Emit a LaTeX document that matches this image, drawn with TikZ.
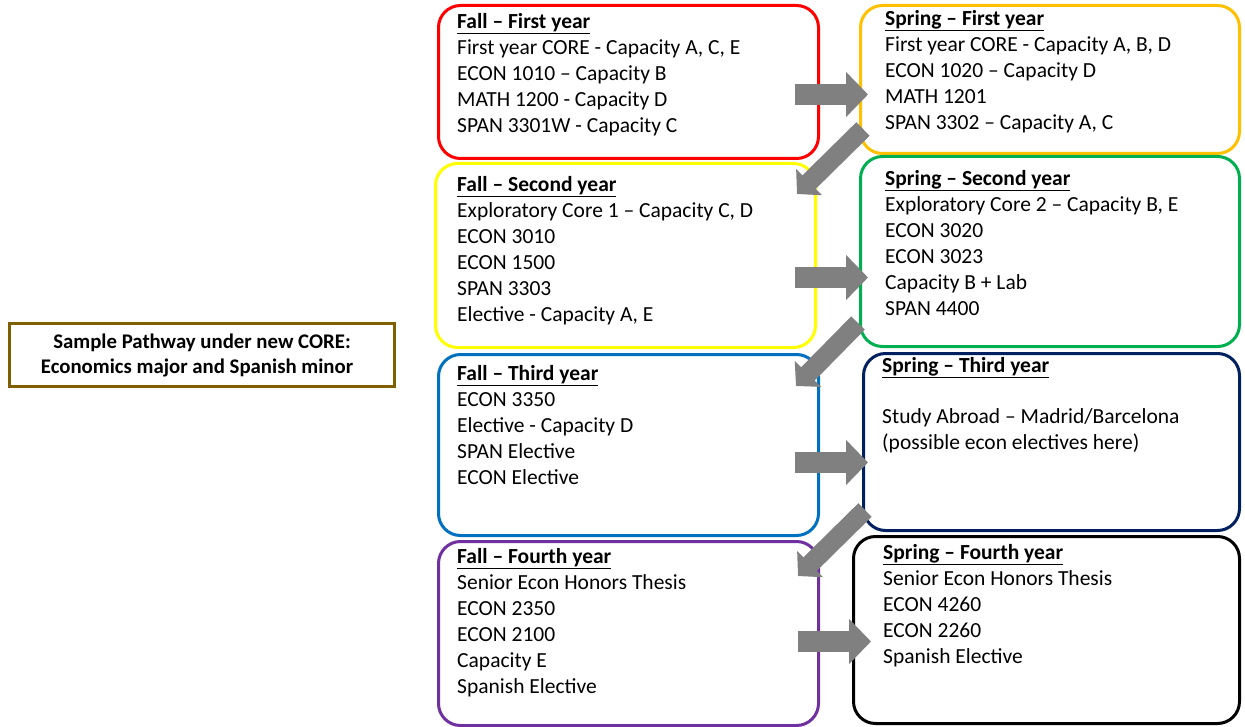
\documentclass[tikz,border=0pt]{standalone}
\usepackage{fontspec}
\setmainfont{Carlito}
\usetikzlibrary{arrows.meta,positioning}
\definecolor{fallred}{HTML}{FF0000}
\definecolor{fallyellow}{HTML}{FFFF00}
\definecolor{fallblue}{HTML}{0070C0}
\definecolor{fallpurple}{HTML}{7030A0}
\definecolor{springorange}{HTML}{FFC000}
\definecolor{springgreen}{HTML}{00B050}
\definecolor{springnavy}{HTML}{002060}
\definecolor{titlebrown}{HTML}{7F6000}
\definecolor{arrowgray}{HTML}{808080}

\begin{document}
\begin{tikzpicture}[x=1pt, y=-1pt]
  \tikzset{term/.style={draw, line width=3pt, rounded corners=22pt, anchor=north west, inner sep=0pt},
           lines/.style={anchor=north west, inner sep=0pt, align=left, font=\fontsize{21.5}{26}\selectfont},
           flow/.style={draw=arrowgray, line width=21pt, -{Triangle[length=22pt, width=44pt]}},
           slant/.style={flow, line width=19pt, -{Triangle[length=17pt, width=36pt]}}}
  \useasboundingbox (0,0) rectangle (1245,727);

  % title
  \node[draw=titlebrown, line width=3pt, anchor=north west, minimum width=385pt, minimum height=63pt,
        align=center, font=\bfseries\fontsize{20.8}{25}\selectfont] (title) at (8,322)
    {Sample Pathway under new CORE:\\Economics major and Spanish minor\hspace*{10pt}};

  % fall semesters
  \node[term, draw=fallred,    minimum width=380pt, minimum height=153pt] (f1) at (437,4) {};
  \node[term, draw=fallyellow, minimum width=380pt, minimum height=184pt] (f2) at (434,162) {};
  \node[term, draw=fallblue,   minimum width=380pt, minimum height=181pt] (f3) at (437,353) {};
  \node[term, draw=fallpurple, minimum width=380pt, minimum height=184pt] (f4) at (437,540) {};
  % spring semesters
  \node[term, draw=springorange, minimum width=379pt, minimum height=148pt] (s1) at (859,4) {};
  \node[term, draw=springgreen,  minimum width=379pt, minimum height=190pt] (s2) at (859,155) {};
  \node[term, draw=springnavy,   minimum width=376pt, minimum height=177pt] (s3) at (862,352) {};
  \node[term, draw=black,        minimum width=386pt, minimum height=187pt] (s4) at (852,535) {};

  \node[lines, below right=9pt and 20pt of f1.north west] (f1t)
    {\underline{\textbf{Fall – First year}}\\First year CORE - Capacity A, C, E\\ECON 1010 – Capacity B\\
     MATH 1200 - Capacity D\\SPAN 3301W - Capacity C};
  \node[lines, below right=14pt and 23pt of f2.north west] (f2t)
    {\underline{\textbf{Fall – Second year}}\\Exploratory Core 1 – Capacity C, D\\ECON 3010\\ECON 1500\\
     SPAN 3303\\Elective - Capacity A, E};
  \node[lines, below right=12pt and 20pt of f3.north west] (f3t)
    {\underline{\textbf{Fall – Third year}}\\ECON 3350\\Elective - Capacity D\\SPAN Elective\\ECON Elective};
  \node[lines, below right=8pt and 20pt of f4.north west] (f4t)
    {\underline{\textbf{Fall – Fourth year}}\\Senior Econ Honors Thesis\\ECON 2350\\ECON 2100\\
     Capacity E\\Spanish Elective};
  \node[lines, below right=6pt and 26pt of s1.north west] (s1t)
    {\underline{\textbf{Spring – First year}}\\First year CORE - Capacity A, B, D\\ECON 1020 – Capacity D\\
     MATH 1201\\SPAN 3302 – Capacity A, C};
  \node[lines, below right=15pt and 26pt of s2.north west] (s2t)
    {\underline{\textbf{Spring – Second year}}\\Exploratory Core 2 – Capacity B, E\\ECON 3020\\ECON 3023\\
     Capacity B + Lab\\SPAN 4400};
  \node[lines, below right=5pt and 20pt of s3.north west] (s3t)
    {\underline{\textbf{Spring – Third year}}\\[25pt]Study Abroad – Madrid/Barcelona\\
     (possible econ electives here)};
  \node[lines, below right=9pt and 31pt of s4.north west] (s4t)
    {\underline{\textbf{Spring – Fourth year}}\\Senior Econ Honors Thesis\\ECON 4260\\ECON 2260\\
     Spanish Elective};

  % block arrows
  \draw[flow] (f1.east) ++(-25,12.5) -- ++(73,0);
  \draw[flow] (f2.east) ++(-22,22) -- ++(73,0);
  \draw[flow] (f3.east) ++(-25,17.5) -- ++(73,0);
  \draw[flow] (f4.east) ++(-22,8) -- ++(73,0);
  \draw[slant] (s1.south west) ++(4,-26) -- ++(-66,65);
  \draw[slant] (s2.south west) ++(-1,-25) -- ++(-62,63);
  \draw[slant] (s3.south west) ++(3,-22) -- ++(-67,66);
\end{tikzpicture}
\end{document}
